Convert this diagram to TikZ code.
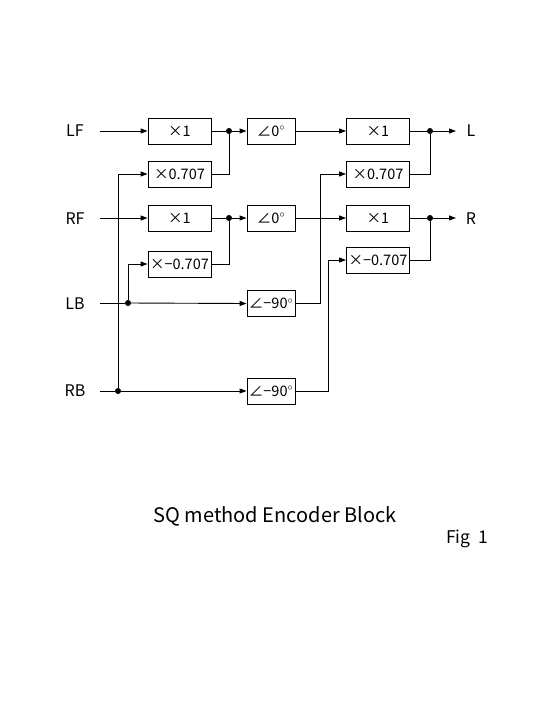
\documentclass[tikz,border=0pt]{standalone}
\usepackage{fontspec}
\setmainfont{Noto Sans CJK JP}
\usetikzlibrary{arrows.meta}

\begin{document}
\begin{tikzpicture}[
  x=1pt, y=-1pt,
  line width=0.9pt,
  >={Triangle[length=7pt, width=5pt]},
  gain/.style={rectangle, draw, minimum width=63pt, minimum height=26pt,
               inner sep=1pt, font=\fontsize{14.5}{14.5}\selectfont},
  phase/.style={rectangle, draw, minimum width=48pt, minimum height=26pt,
                inner sep=1pt, font=\fontsize{14.5}{14.5}\selectfont},
  chan/.style={inner sep=0pt, font=\fontsize{16}{16}\selectfont},
  dot/.style={circle, fill, draw, line width=0.4pt, inner sep=0pt, minimum size=5.5pt},
  sig/.style={->},
  wire/.style={-},
]
\useasboundingbox (0,0) rectangle (540,720);

% channel labels
\node[chan] (lf) at (75,131) {LF};
\node[chan] (rf) at (75,219) {RF};
\node[chan] (lb) at (75,304) {LB};
\node[chan] (rb) at (75,391) {RB};
\node[chan] (l)  at (471,131) {L};
\node[chan] (r)  at (471,219) {R};

\coordinate (lfin) at (100,131);
\coordinate (rfin) at (100,218);
\coordinate (lbin) at (100,303);
\coordinate (rbin) at (100,391);
\coordinate (lout) at (456,131);
\coordinate (rout) at (456,218);

% first gain column
\node[gain] (g1) at (179.5,131) {×1};
\node[gain] (g2) at (179.5,174) {×0.707};
\node[gain] (g3) at (179.5,218) {×1};
\node[gain] (g4) at (179.5,264) {×−0.707};

% phase column
\node[phase] (p1) at (271,131)   {∠0$^\circ$};
\node[phase] (p2) at (271,218)   {∠0$^\circ$};
\node[phase] (p3) at (271,303.5) {∠−90$^\circ$};
\node[phase] (p4) at (271,391)   {∠−90$^\circ$};

% second gain column
\node[gain] (g5) at (378,131) {×1};
\node[gain] (g6) at (378,174) {×0.707};
\node[gain] (g7) at (378,218) {×1};
\node[gain] (g8) at (378,260) {×−0.707};

% junctions
\node[dot] (j1)  at (229,131) {};
\node[dot] (j2)  at (229,218) {};
\node[dot] (j3)  at (430,131) {};
\node[dot] (j4)  at (430,218) {};
\node[dot] (jlb) at (128,303) {};
\node[dot] (jrb) at (118,391) {};

% inputs
\draw[sig] (lfin) -- (g1.west);
\draw[sig] (rfin) -- (g3.west);
\draw[wire] (lbin) -- (jlb);
\draw[sig] (jlb) -- (p3.west);
\draw[wire] (rbin) -- (jrb);
\draw[sig] (jrb) -- (p4.west);

% back channels into the first column
\draw[sig] (jrb) |- (g2.west);
\draw[sig] (jlb) |- (g4.west);

% first sums
\draw[wire] (g1.east) -- (j1);
\draw[sig]  (j1) -- (p1.west);
\draw[wire] (g2.east) -| (j1);
\draw[wire] (g3.east) -- (j2);
\draw[sig]  (j2) -- (p2.west);
\draw[wire] (g4.east) -| (j2);

% phase outputs
\draw[sig] (p1.east) -- (g5.west);
\draw[sig] (p2.east) -- (g7.west);
\draw[sig] (p3.east) -- ++(25,0) |- (g6.west);
\draw[sig] (p4.east) -- ++(33,0) |- (g8.west);

% output sums
\draw[wire] (g5.east) -- (j3);
\draw[sig]  (j3) -- (lout);
\draw[wire] (g6.east) -| (j3);
\draw[wire] (g7.east) -- (j4);
\draw[sig]  (j4) -- (rout);
\draw[wire] (g8.east) -| (j4);

% caption
\node[font=\fontsize{20}{20}\selectfont] (title) at (275,516) {SQ method Encoder Block};
\node[font=\fontsize{17.5}{17.5}\selectfont] (fig) at (467,539) {Fig\ \ 1};
\end{tikzpicture}
\end{document}
